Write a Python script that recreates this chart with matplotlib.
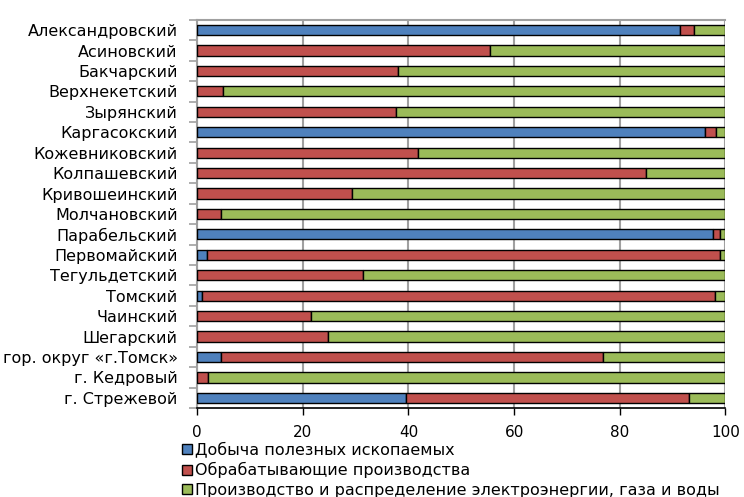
import numpy as np
import matplotlib.pyplot as plt
from matplotlib.patches import Patch

plt.rcParams['font.family'] = ['DejaVu Sans']

# Districts of Tomsk region (top to bottom)
districts = [
    "Александровский", "Асиновский", "Бакчарский", "Верхнекетский",
    "Зырянский", "Каргасокский", "Кожевниковский", "Колпашевский",
    "Кривошеинский", "Молчановский", "Парабельский", "Первомайский",
    "Тегульдетский", "Томский", "Чаинский", "Шегарский",
    "гор. округ «г.Томск»", "г. Кедровый", "г. Стрежевой",
]

# Share of shipped output by activity, %
mining = [91.4, 0, 0, 0, 0, 96.2, 0, 0, 0, 0, 97.7, 1.9, 0, 1.0, 0, 0, 4.5, 0, 39.6]
manufacturing = [2.6, 55.5, 38.1, 4.8, 37.7, 2.1, 41.9, 85.0, 29.4, 4.5,
                 1.2, 97.0, 31.4, 97.1, 21.6, 24.8, 72.4, 2.1, 53.6]
utilities = [100 - a - b for a, b in zip(mining, manufacturing)]

series_names = [
    "Добыча полезных ископаемых",
    "Обрабатывающие производства",
    "Производство и распределение электроэнергии, газа и воды",
]
colors = ["#4F81BD", "#C0504D", "#9BBB59"]

fig = plt.figure(figsize=(7.44, 4.97), dpi=100)
ax = fig.add_axes([0.265, 0.179, 0.71, 0.781])

y = np.arange(len(districts))
left = np.zeros(len(districts))
for vals, col in zip([mining, manufacturing, utilities], colors):
    vals = np.array(vals, dtype=float)
    ax.barh(y, vals, left=left, height=0.5, color=col,
            edgecolor="black", linewidth=1.0, zorder=3)
    left += vals

ax.set_xlim(0, 100)
ax.set_ylim(len(districts) - 0.5, -0.5)
ax.set_xticks(np.arange(0, 101, 20))
ax.tick_params(axis="x", labelsize=11, length=5, width=1, color="black", pad=7)
ax.grid(axis="x", color="#a0a0a0", linewidth=1.5, zorder=0)

ax.set_yticks(y)
ax.set_yticklabels(districts, fontsize=11.5)
ax.set_yticks(np.arange(-0.5, len(districts), 1), minor=True)
ax.tick_params(axis="y", which="major", length=0, pad=14)
ax.tick_params(axis="y", which="minor", length=6, width=1.2, color="#a0a0a0")

for side in ["left", "top"]:
    ax.spines[side].set_color("#a0a0a0")
    ax.spines[side].set_linewidth(1.5)
ax.spines["right"].set_visible(False)
ax.spines["bottom"].set_color("black")
ax.spines["bottom"].set_linewidth(1.2)

handles = [Patch(facecolor=c, edgecolor="black", linewidth=1.0) for c in colors]
fig.legend(handles, series_names, loc="upper left", bbox_to_anchor=(0.245, 0.112),
           frameon=False, fontsize=11.5, handlelength=0.6, handleheight=0.6,
           handletextpad=0.2, labelspacing=0.3, borderpad=0, borderaxespad=0)

fig.savefig("out.png", dpi=100)
